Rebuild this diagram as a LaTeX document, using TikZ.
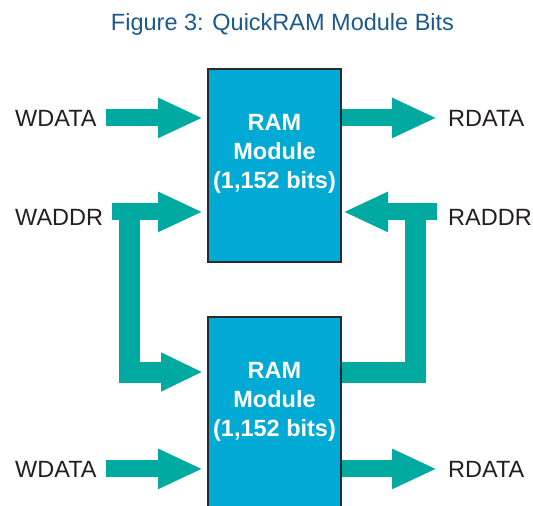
\documentclass[tikz,border=0pt]{standalone}
\usepackage{fontspec}
\setmainfont{Liberation Sans}
\usetikzlibrary{arrows.meta}
\definecolor{teal}{HTML}{00AAA0}
\definecolor{ramblue}{HTML}{00AAD4}
\definecolor{titleblue}{HTML}{1B5A8A}
\definecolor{edge}{HTML}{2A2A2A}
\definecolor{ink}{HTML}{231F20}
\begin{document}
\begin{tikzpicture}[x=1pt,y=-1pt,
  lbl/.style={inner sep=0pt,anchor=base west,text=ink,font=\fontsize{23.5}{28}\selectfont},
  rambox/.style={draw=edge,fill=ramblue,line width=2pt,outer sep=1pt,minimum width=133pt,minimum height=193pt,inner sep=0pt},
  ramtext/.style={text=white,align=center,inner sep=0pt,font=\fontsize{23.5}{29}\selectfont\bfseries},
  fatarrow/.style={draw=teal,line width=17pt,-{Triangle[length=45pt,width=37pt]}},
  bracket/.style={draw=teal,line width=21pt,line join=miter},
  bracketarrow/.style={bracket,-{Triangle[length=42pt,width=36pt]}}]
\useasboundingbox (0,0) rectangle (533,506);
\node[anchor=base,inner sep=0pt,text=titleblue,font=\fontsize{23.5}{28}\selectfont] (title) at (282.5,30) {Figure 3: QuickRAM Module Bits};
% boxes
\node[rambox] (ram1) at (274.5,165.5) {};
\node[ramtext] (ram1t) at (274.5,154) {RAM\\Module\\(1,152 bits)};
\node[rambox] (ram2) at (274.5,413.5) {};
\node[ramtext] (ram2t) at (274.5,402) {RAM\\Module\\(1,152 bits)};
% labels
\node[lbl] (wdata1) at (15,126) {WDATA};
\node[lbl] (waddr) at (15,225) {WADDR};
\node[lbl] (rdata1) at (448,126) {RDATA};
\node[lbl] (raddr) at (448,225) {RADDR};
\node[lbl] (wdata2) at (15,477) {WDATA};
\node[lbl] (rdata2) at (448,477) {RDATA};
\coordinate (wsplit) at (129,203);
\coordinate (rsplit) at (415,203);
% brackets
\draw[bracketarrow,shorten >=4pt] (wsplit) -- (129,372) -- (ram2.west |- 0,372);
\draw[bracket] (ram2.east |- 0,372) -- (415,372) -- (rsplit);
% arrows
\draw[fatarrow,shorten >=4pt] ([xshift=9pt]wdata1.east) -- (wdata1.east -| ram1.west);
\draw[fatarrow,shorten >=4pt] ([xshift=9pt,yshift=5pt]waddr.east) -- ([yshift=5pt]waddr.east -| ram1.west);
\draw[fatarrow] (ram1.east |- rdata1.west) -- ([xshift=-11pt]rdata1.west);
\draw[fatarrow,shorten >=1pt] ([xshift=-11pt,yshift=5pt]raddr.west) -- ([yshift=5pt]raddr.west -| ram1.east);
\draw[fatarrow,shorten >=4pt] ([xshift=9pt]wdata2.east) -- (wdata2.east -| ram2.west);
\draw[fatarrow] (ram2.east |- rdata2.west) -- ([xshift=-11pt]rdata2.west);
\end{tikzpicture}
\end{document}
